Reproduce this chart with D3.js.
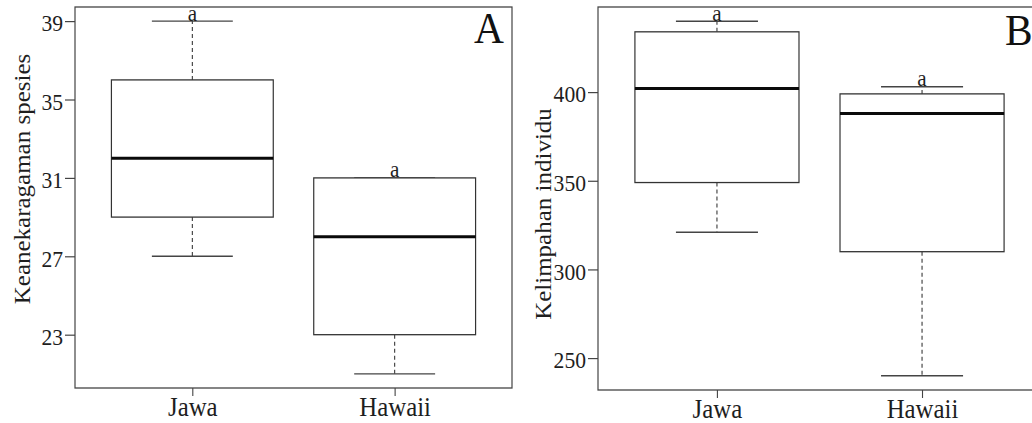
<!DOCTYPE html>
<html><head><meta charset="utf-8">
<script src="https://cdn.jsdelivr.net/npm/d3@7"></script>
<style>html,body{margin:0;padding:0;background:#fff;overflow:hidden}</style>
</head><body>
<svg id="chart"></svg>
<script>
// ---- data ----
const categories = ["Jawa", "Hawaii"];
// Panel A: Keanekaragaman spesies (min, Q1, median, Q3, max)
const diversityMin    = [27, 21];
const diversityQ1     = [29, 23];
const diversityMedian = [32, 28];
const diversityQ3     = [36, 31];
const diversityMax    = [39, 31];
const diversityTicks  = [23, 27, 31, 35, 39];
const diversityLetters = ["a", "a"];
// Panel B: Kelimpahan individu
const abundanceMin    = [321, 240];
const abundanceQ1     = [349, 310];
const abundanceMedian = [402, 388];
const abundanceQ3     = [434, 399];
const abundanceMax    = [440, 403];
const abundanceTicks  = [250, 300, 350, 400];
const abundanceLetters = ["a", "a"];

// ---- layout ----
const W = 1032, H = 423, k = 0.92;   // k: horizontal glyph compression
const X = px => px / k;
const FONT = "'Liberation Serif','Times New Roman',serif";
const TXT = "#1e1e1e";

const svg = d3.select("#chart")
  .attr("width", W).attr("height", H)
  .attr("viewBox", `0 0 ${W / k} ${H}`)
  .attr("preserveAspectRatio", "none");
svg.append("rect").attr("width", W / k).attr("height", H).attr("fill", "#fff");

function panel(cfg) {
  const g = svg.append("g");
  const n = categories.length;
  const x = d3.scaleLinear()
    .domain([0.5 - 0.04 * n, n + 0.5 + 0.04 * n])
    .range([X(cfg.left), X(cfg.right)]);
  const lo = d3.min(cfg.min), hi = d3.max(cfg.max), span = hi - lo;
  const y = d3.scaleLinear()
    .domain([lo - 0.04 * span, hi + 0.04 * span])
    .range([cfg.bottom, cfg.top]);

  const data = categories.map((c, i) => ({
    c, pos: i + 1, min: cfg.min[i], q1: cfg.q1[i], med: cfg.med[i], q3: cfg.q3[i], max: cfg.max[i], letter: cfg.letters[i]
  }));

  const boxes = g.selectAll("g.box").data(data).join("g").attr("class", "box");
  // whiskers (dashed)
  boxes.append("line").attr("x1", d => x(d.pos)).attr("x2", d => x(d.pos))
    .attr("y1", d => y(d.q3)).attr("y2", d => y(d.max))
    .attr("stroke", "#3a3a3a").attr("stroke-width", 1.2).attr("stroke-dasharray", "4,3");
  boxes.append("line").attr("x1", d => x(d.pos)).attr("x2", d => x(d.pos))
    .attr("y1", d => y(d.q1)).attr("y2", d => y(d.min))
    .attr("stroke", "#3a3a3a").attr("stroke-width", 1.2).attr("stroke-dasharray", "4,3");
  // caps
  boxes.append("line").attr("x1", d => x(d.pos - 0.2)).attr("x2", d => x(d.pos + 0.2))
    .attr("y1", d => y(d.max)).attr("y2", d => y(d.max))
    .attr("stroke", "#444").attr("stroke-width", 1.4);
  boxes.append("line").attr("x1", d => x(d.pos - 0.2)).attr("x2", d => x(d.pos + 0.2))
    .attr("y1", d => y(d.min)).attr("y2", d => y(d.min))
    .attr("stroke", "#444").attr("stroke-width", 1.4);
  // box
  boxes.append("rect").attr("x", d => x(d.pos - 0.4)).attr("width", d => x(d.pos + 0.4) - x(d.pos - 0.4))
    .attr("y", d => y(d.q3)).attr("height", d => y(d.q1) - y(d.q3))
    .attr("fill", "#fff").attr("stroke", "#333").attr("stroke-width", 1.3);
  // median
  boxes.append("line").attr("x1", d => x(d.pos - 0.4)).attr("x2", d => x(d.pos + 0.4))
    .attr("y1", d => y(d.med)).attr("y2", d => y(d.med))
    .attr("stroke", "#0a0a0a").attr("stroke-width", 3);
  // letters
  boxes.append("text").attr("x", d => x(d.pos)).attr("y", d => y(d.max) - 0.5)
    .attr("text-anchor", "middle").attr("font-family", FONT).attr("font-size", 23)
    .attr("fill", TXT).text(d => d.letter);

  // frame
  g.append("rect").attr("x", X(cfg.left)).attr("y", cfg.top)
    .attr("width", X(cfg.right) - X(cfg.left)).attr("height", cfg.bottom - cfg.top)
    .attr("fill", "none").attr("stroke", "#444").attr("stroke-width", 1.3);

  // y axis
  const ya = g.append("g").attr("transform", `translate(${X(cfg.left)},0)`)
    .call(d3.axisLeft(y).tickValues(cfg.ticks).tickSize(X(10)).tickPadding(X(2)).tickFormat(d3.format("d")));
  ya.select(".domain").remove();
  ya.selectAll(".tick line").attr("stroke", "#444").attr("stroke-width", 1.2);
  ya.selectAll(".tick text").attr("font-family", FONT).attr("font-size", 23.5)
    .attr("fill", TXT).attr("dy", "0.42em");

  // x axis
  const xa = g.append("g").attr("transform", `translate(0,${cfg.bottom})`)
    .call(d3.axisBottom(x).tickValues(data.map(d => d.pos)).tickSize(8)
      .tickFormat((v, i) => categories[i]));
  xa.select(".domain").remove();
  xa.selectAll(".tick line").attr("stroke", "#444").attr("stroke-width", 1.2);
  xa.selectAll(".tick text").attr("font-family", FONT).attr("font-size", 27)
    .attr("fill", TXT).attr("y", 28).attr("dy", 0);

  // y title
  g.append("text").attr("transform", `translate(${X(cfg.titleX)},${cfg.titleY}) rotate(-90)`)
    .attr("text-anchor", "middle").attr("font-family", FONT).attr("font-size", 25)
    .attr("fill", TXT).text(cfg.title);

  // panel letter
  g.append("text").attr("x", X(cfg.letterX)).attr("y", cfg.letterY)
    .attr("text-anchor", cfg.letterAnchor).attr("font-family", FONT).attr("font-size", 45)
    .attr("fill", "#111").text(cfg.letter);
}

panel({
  left: 75, right: 512, top: 7, bottom: 388,
  min: diversityMin, q1: diversityQ1, med: diversityMedian, q3: diversityQ3, max: diversityMax,
  ticks: diversityTicks, letters: diversityLetters,
  title: "Keanekaragaman spesies", titleX: 30, titleY: 179,
  letter: "A", letterX: 504, letterY: 43, letterAnchor: "end"
});
panel({
  left: 598, right: 1041, top: 7, bottom: 390,
  min: abundanceMin, q1: abundanceQ1, med: abundanceMedian, q3: abundanceQ3, max: abundanceMax,
  ticks: abundanceTicks, letters: abundanceLetters,
  title: "Kelimpahan individu", titleX: 551, titleY: 214,
  letter: "B", letterX: 1005, letterY: 45, letterAnchor: "start"
});
</script>
</body></html>
